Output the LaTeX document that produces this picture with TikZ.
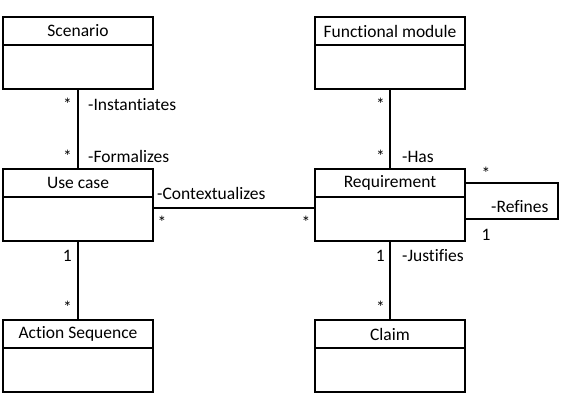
\documentclass[tikz,border=0pt]{standalone}
\usepackage{fontspec}
\setmainfont{Carlito}[Ligatures=NoCommon]
\usetikzlibrary{positioning}

\begin{document}
\begin{tikzpicture}[
          x=1pt, y=-1pt,
          node distance=80pt and 162pt,
          font=\fontsize{17.5}{20}\selectfont,
          classhead/.style={draw, line width=1.6pt, minimum width=150pt, minimum height=28pt, inner sep=0pt, outer sep=0pt},
          classbody/.style={draw, line width=1.6pt, minimum width=150pt, minimum height=44pt, inner sep=0pt, outer sep=0pt},
          assoc/.style={line width=1.8pt},
          mult/.style={inner sep=0pt},
          role/.style={inner sep=0pt, anchor=base west}
        ]
          \useasboundingbox (0,0) rectangle (569,402);

          % left column
          \node (scenario) [classhead] at (78,31) {Scenario};
          \node (scenariob) [classbody, below=0pt of scenario] {};
          \node (usecase) [classhead, below=of scenariob] {Use case};
          \node (usecaseb) [classbody, below=0pt of usecase] {};
          \node (action) [classhead, below=79pt of usecaseb] {Action Sequence};
          \node (actionb) [classbody, below=0pt of action] {};

          % right column
          \node (module) [classhead, right=of scenario] {Functional module};
          \node (moduleb) [classbody, below=0pt of module] {};
          \node (req) [classhead, right=of usecase] {Requirement};
          \node (reqb) [classbody, below=0pt of req] {};
          \node (claim) [classhead, right=of action] {Claim};
          \node (claimb) [classbody, below=0pt of claim] {};

          % associations
          \draw[assoc] (scenariob) -- (usecase);
          \draw[assoc] (usecaseb) -- (action);
          \draw[assoc] (moduleb) -- (req);
          \draw[assoc] (reqb) -- (claim);
          \draw[assoc] ([yshift=-11pt]usecaseb.north east) -- ([yshift=-11pt]reqb.north west);
          \draw[assoc] (req.east) -- ++(93,0) |- (reqb.east);

          % multiplicities and roles
          \node (m1) [mult, anchor=base east] at (72,110) {*};
          \node (m2) [mult, anchor=base east] at (72,162) {*};
          \node (r1) [role] at (88,110) {-Instantiates};
          \node (r2) [role] at (88,162) {-Formalizes};
          \node (r3) [role] at (157,199) {-Contextualizes};
          \node (m3) [mult, anchor=base] at (162,228) {*};
          \node (m4) [mult, anchor=base] at (306,228) {*};
          \node (m5) [mult, anchor=base east] at (72,261) {1};
          \node (m6) [mult, anchor=base east] at (72,313) {*};
          \node (m7) [mult, anchor=base east] at (385,110) {*};
          \node (m8) [mult, anchor=base east] at (385,162) {*};
          \node (r4) [role] at (402,162) {-Has};
          \node (m9) [mult, anchor=base] at (486,179) {*};
          \node (r5) [role] at (491,212) {-Refines};
          \node (m10) [mult, anchor=base] at (486,240) {1};
          \node (m11) [mult, anchor=base east] at (385,261) {1};
          \node (r6) [role] at (402,261) {-Justifies};
          \node (m12) [mult, anchor=base east] at (385,313) {*};
        \end{tikzpicture}
\end{document}
